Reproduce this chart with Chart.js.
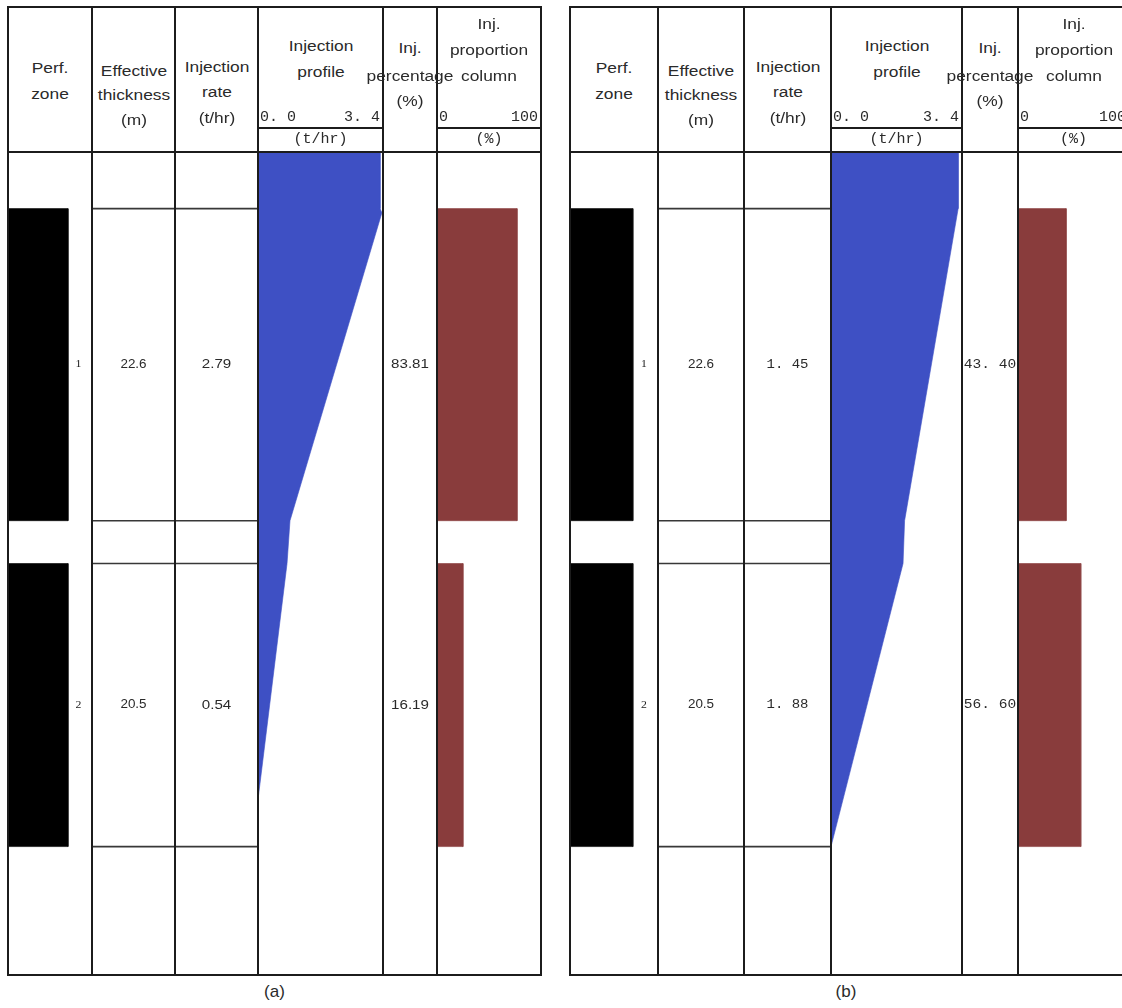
<!DOCTYPE html>
<html>
<head>
<meta charset="utf-8">
<script src="https://cdn.jsdelivr.net/npm/chart.js@4.4.1/dist/chart.umd.min.js"></script>
<style>
html, body { margin:0; padding:0; background:#fff; width:1122px; height:1008px; overflow:hidden; position:relative; }
canvas { position:absolute; z-index:1; }
.ln { position:absolute; background:#1c1c1c; z-index:3; }
.tx { position:absolute; white-space:nowrap; line-height:1; color:#2a2a2a; z-index:4; }
</style>
</head>
<body>
<script>
// ---------------- DATA ----------------
const depthRange     = [0, 59.6];            // relative depth of the log window (m)
const zoneNames      = ['1', '2'];
const zoneTop        = [4.1, 29.8];          // top of each perforated zone (m)
const zoneThickness  = [22.6, 20.5];         // effective thickness (m)
const thicknessLabels = ['22.6', '20.5'];

const rateLabelsA    = ['2.79', '0.54'];
const rateLabelsB    = ['1. 45', '1. 88'];
const pctLabelsA     = ['83.81', '16.19'];
const pctLabelsB     = ['43. 40', '56. 60'];
const propBarsA      = [77, 25];             // drawn bar length (%)
const propBarsB      = [43.4, 56.6];

const profileDepthA  = [0, 4.1, 4.4, 26.7, 29.8, 46.9, 59.6];
const profileRateA   = [3.32, 3.32, 3.37, 0.87, 0.79, 0, 0];
const profileDepthB  = [0, 4.1, 26.7, 29.8, 50.3, 59.6];
const profileRateB   = [3.30, 3.30, 1.91, 1.87, 0, 0];

const profileRange   = [0, 3.4];
const profileTicks   = ['0. 0', '3. 4'];
const propRange      = [0, 100];
const propTicks      = ['0', '100'];
const unitLabels     = ['(t/hr)', '(%)'];
const panelCaptions  = ['(a)', '(b)'];
const headerTitles   = [
  ['Perf.', 'zone'],
  ['Effective', 'thickness', '(m)'],
  ['Injection', 'rate', '(t/hr)'],
  ['Injection', 'profile'],
  ['Inj.', 'percentage', '(%)'],
  ['Inj.', 'proportion', 'column']
];

// ---------------- LAYOUT / STYLE ----------------
const L = { top:7, head:152, sub:128, bottom:975, capY:992 };
const PANEL_EDGES = [[8, 92, 175, 258, 383, 437, 541], [570, 658, 744, 831, 962, 1018, 1129]];
const HEAD_Y = [[68, 94], [71, 95, 120], [67, 92, 118], [46, 72], [48, 76, 101], [24, 50, 76]];
const TICK_Y = 117, UNIT_Y = 139;
const BLUE = '#3e50c4', BROWN = '#893c3c', BLACK = '#000';
const ZONE_FRAC = 0.715, ZONE_LABEL_FRAC = 0.84;
const SANS = '"Liberation Sans", Arial, sans-serif';
const MONO = '"Liberation Mono", "DejaVu Sans Mono", monospace';
const SERIF = '"Liberation Serif", serif';
const STRETCH = 1.12;

const panels = [
  { edges: PANEL_EDGES[0], rate: rateLabelsA, pct: pctLabelsA, prop: propBarsA,
    pd: profileDepthA, pr: profileRateA, rateFont: '13.5px ' + SANS, pctFont: '13.5px ' + SANS, caption: panelCaptions[0] },
  { edges: PANEL_EDGES[1], rate: rateLabelsB, pct: pctLabelsB, prop: propBarsB,
    pd: profileDepthB, pr: profileRateB, rateFont: '12.5px ' + MONO, pctFont: '13px ' + MONO, caption: panelCaptions[1] }
];

// ---------------- HELPERS ----------------
function line(x, y, w, h, color) {
  const d = document.createElement('div');
  d.className = 'ln';
  d.style.left = x + 'px'; d.style.top = y + 'px';
  d.style.width = w + 'px'; d.style.height = h + 'px';
  if (color) d.style.background = color;
  document.body.appendChild(d);
}
function txt(s, x, y, font, align, sx) {
  const d = document.createElement('div');
  d.className = 'tx';
  d.textContent = s;
  d.style.font = font;
  d.style.left = x + 'px'; d.style.top = y + 'px';
  sx = sx || 1;
  if (align === 'left') { d.style.transformOrigin = 'left center'; d.style.transform = `translate(0,-50%) scaleX(${sx})`; }
  else if (align === 'right') { d.style.transformOrigin = 'right center'; d.style.transform = `translate(-100%,-50%) scaleX(${sx})`; }
  else { d.style.transform = `translate(-50%,-50%) scaleX(${sx})`; }
  document.body.appendChild(d);
}
function rectPoly(x0, x1, y0, y1) {
  return [{x:x0, y:y0}, {x:x1, y:y0}, {x:x1, y:y1}, {x:x0, y:y1}, {x:x0, y:y0}];
}
function polyDataset(points, color) {
  return { data: points, showLine: true, fill: 'shape', backgroundColor: color, borderColor: color,
           borderWidth: 0.6, pointRadius: 0, pointHoverRadius: 0, tension: 0 };
}
function zoneMid(i) { return zoneTop[i] + zoneThickness[i] / 2; }
function zoneBot(i) { return zoneTop[i] + zoneThickness[i]; }

function drawZoneTexts(chart, labels, fx, font, color) {
  const ctx = chart.ctx, xs = chart.scales.x, ys = chart.scales.y;
  ctx.save();
  ctx.font = font; ctx.fillStyle = color || '#2a2a2a';
  ctx.textAlign = 'center'; ctx.textBaseline = 'middle';
  labels.forEach((t, i) => {
    ctx.save();
    ctx.translate(xs.getPixelForValue(fx), ys.getPixelForValue(zoneMid(i)));
    ctx.scale(STRETCH, 1);
    ctx.fillText(t, 0, 0);
    ctx.restore();
  });
  ctx.restore();
}
function drawRowLines(chart) {
  const ctx = chart.ctx, ys = chart.scales.y;
  ctx.save();
  ctx.strokeStyle = '#383838'; ctx.lineWidth = 1.6;
  zoneTop.forEach((t, i) => {
    [t, zoneBot(i)].forEach(d => {
      const y = ys.getPixelForValue(d);
      ctx.beginPath(); ctx.moveTo(0, y); ctx.lineTo(chart.width, y); ctx.stroke();
    });
  });
  ctx.restore();
}

function makeColumn(x0, x1, xRange, datasets, afterDraw) {
  const c = document.createElement('canvas');
  c.width = x1 - x0; c.height = L.bottom - L.head;
  c.style.left = x0 + 'px'; c.style.top = L.head + 'px';
  document.body.appendChild(c);
  return new Chart(c, {
    type: 'scatter',
    data: { datasets: datasets },
    options: {
      responsive: false, animation: false, events: [], devicePixelRatio: 1,
      layout: { padding: 0 },
      plugins: { legend: { display: false }, tooltip: { enabled: false } },
      scales: {
        x: { type: 'linear', min: xRange[0], max: xRange[1], display: false },
        y: { type: 'linear', min: depthRange[0], max: depthRange[1], reverse: true, display: false }
      }
    },
    plugins: afterDraw ? [{ id: 'colText', afterDraw: afterDraw }] : []
  });
}

// ---------------- BUILD ----------------
panels.forEach(p => {
  const e = p.edges;
  const left = e[0], right = e[e.length - 1];
  line(left - 1, L.top - 1, right - left + 2, 2);
  line(left - 1, L.bottom - 1, right - left + 2, 2);
  e.forEach(x => line(x - 1, L.top - 1, 2, L.bottom - L.top + 2));
  line(left, L.head - 1, right - left, 2);
  line(e[3], L.sub - 1, e[4] - e[3], 2);
  line(e[5], L.sub - 1, e[6] - e[5], 2);

  headerTitles.forEach((rows, ci) => {
    const cx = (e[ci] + e[ci + 1]) / 2;
    rows.forEach((s, ri) => txt(s, cx, HEAD_Y[ci][ri], '15.5px ' + SANS, 'center', STRETCH));
  });
  txt(profileTicks[0], e[3] + 2, TICK_Y, '15px ' + MONO, 'left');
  txt(profileTicks[1], e[4] - 3, TICK_Y, '15px ' + MONO, 'right');
  txt(unitLabels[0], (e[3] + e[4]) / 2, UNIT_Y, '15px ' + MONO, 'center');
  txt(propTicks[0], e[5] + 2, TICK_Y, '15px ' + MONO, 'left');
  txt(propTicks[1], e[6] - 3, TICK_Y, '15px ' + MONO, 'right');
  txt(unitLabels[1], (e[5] + e[6]) / 2, UNIT_Y, '15px ' + MONO, 'center');
  txt(p.caption, (left + Math.min(right, 1122)) / 2, L.capY, '17px ' + SANS, 'center');

  makeColumn(e[0], e[1], [0, 1],
    zoneTop.map((t, i) => polyDataset(rectPoly(0, ZONE_FRAC, t, zoneBot(i)), BLACK)),
    ch => drawZoneTexts(ch, zoneNames, ZONE_LABEL_FRAC, '10.5px ' + SERIF, '#222'));
  makeColumn(e[1], e[2], [0, 1], [],
    ch => { drawRowLines(ch); drawZoneTexts(ch, thicknessLabels, 0.5, '12px ' + SANS); });
  makeColumn(e[2], e[3], [0, 1], [],
    ch => { drawRowLines(ch); drawZoneTexts(ch, p.rate, 0.5, p.rateFont); });
  const prof = [{ x: 0, y: p.pd[0] }];
  p.pd.forEach((d, i) => prof.push({ x: p.pr[i], y: d }));
  prof.push({ x: 0, y: p.pd[p.pd.length - 1] });
  prof.push({ x: 0, y: p.pd[0] });
  makeColumn(e[3], e[4], profileRange, [polyDataset(prof, BLUE)]);
  makeColumn(e[4], e[5], [0, 1], [],
    ch => drawZoneTexts(ch, p.pct, 0.5, p.pctFont));
  makeColumn(e[5], e[6], propRange,
    zoneTop.map((t, i) => polyDataset(rectPoly(0, p.prop[i], t, zoneBot(i)), BROWN)));
});
</script>
</body>
</html>
